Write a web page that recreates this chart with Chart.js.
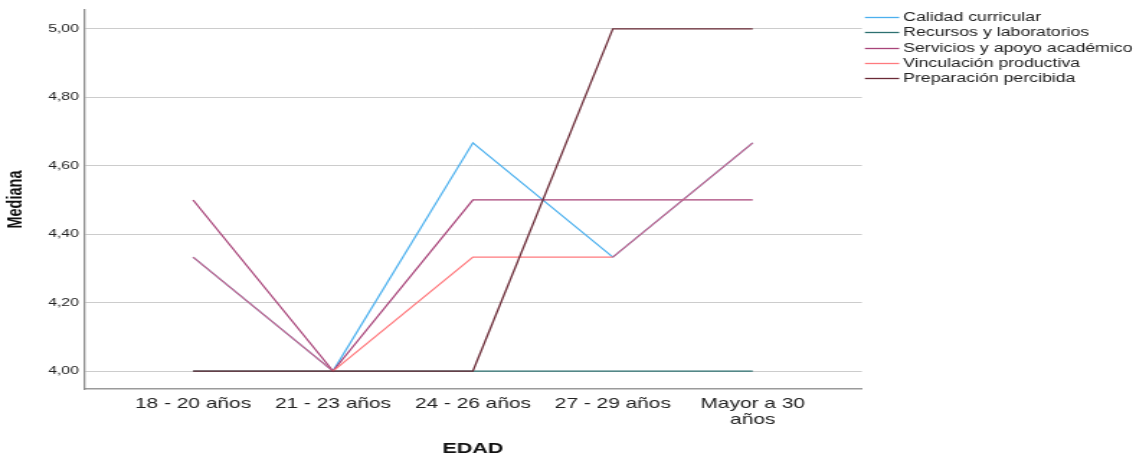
<!DOCTYPE html>
<html>
<head>
<meta charset="utf-8">
<script src="https://cdn.jsdelivr.net/npm/chart.js@4"></script>
<style>
  html, body { margin: 0; padding: 0; background: #ffffff; }
  #wrap { width: 1136px; height: 456px; overflow: hidden; }
  canvas { display: block; }
</style>
</head>
<body>
<div id="wrap"><canvas id="c" width="789" height="456" style="width:1136px;height:456px"></canvas></div>
<script>
// ---- data ----
const categories = ["18 - 20 años", "21 - 23 años", "24 - 26 años", "27 - 29 años", ["Mayor a 30", "años"]];
const seriesNames = ["Calidad curricular", "Recursos y laboratorios", "Servicios y apoyo académico", "Vinculación productiva", "Preparación percibida"];
const calidad      = [4.333, 4.00, 4.667, 4.333, 4.667];
const recursos     = [4.00, 4.00, 4.00, 4.00, 4.00];
const servicios    = [4.50, 4.00, 4.50, 4.50, 4.50];
const vinculacion  = [4.333, 4.00, 4.333, 4.333, 4.667];
const preparacion  = [4.00, 4.00, 4.00, 5.00, 5.00];
const yTicks = [4.00, 4.20, 4.40, 4.60, 4.80, 5.00];
const xTitle = "EDAD";
const yTitle = "Mediana";

// ---- styles ----
const colors = ["#4cb0ee", "#2d7070", "#a84479", "#ff7a7e", "#6a2a36"];
const overlapColor = "#cc6588";
const FONT = '"Liberation Sans", Arial, sans-serif';

const toPts = arr => arr.map((v, i) => ({ x: i, y: v }));
const allSeries = [calidad, recursos, servicios, vinculacion, preparacion];

const datasets = allSeries.map((arr, k) => ({
  label: seriesNames[k],
  data: toPts(arr),
  borderColor: colors[k],
  backgroundColor: colors[k],
  borderWidth: 1.25,
  pointRadius: 0,
  pointHoverRadius: 0,
  tension: 0,
  fill: false,
  order: 5 - k
}));
// where Vinculación runs on top of Calidad the two blend into a mauve tone
datasets[3].segment = {
  borderColor: ctx => {
    const i0 = ctx.p0DataIndex, i1 = ctx.p1DataIndex;
    return (calidad[i0] === vinculacion[i0] && calidad[i1] === vinculacion[i1]) ? overlapColor : undefined;
  }
};

const sideLegend = {
  id: 'sideLegend',
  afterDraw(chart) {
    const ctx = chart.ctx;
    ctx.save();
    ctx.font = '12.3px ' + FONT;
    ctx.textBaseline = 'middle';
    ctx.textAlign = 'left';
    chart.data.datasets.forEach((ds, i) => {
      const y = Math.round(16.7 + i * 15.4) + 0.5;
      ctx.strokeStyle = ds.borderColor;
      ctx.lineWidth = 1.3;
      ctx.beginPath();
      ctx.moveTo(600.7, y);
      ctx.lineTo(624.5, y);
      ctx.stroke();
      ctx.fillStyle = '#222';
      ctx.fillText(ds.label, 627.3, y);
    });
    ctx.restore();
  }
};

const chart = new Chart(document.getElementById('c'), {
  type: 'line',
  data: { datasets },
  options: {
    responsive: false,
    animation: false,
    devicePixelRatio: 1,
    layout: { padding: { top: 9, right: 190.4, bottom: 0, left: 0 } },
    plugins: { legend: { display: false }, tooltip: { enabled: false } },
    scales: {
      x: {
        type: 'linear',
        min: -0.78,
        max: 4.78,
        afterBuildTicks: s => { s.ticks = categories.map((_, i) => ({ value: i })); },
        afterFit: s => { s.height = 67; },
        grid: { display: false, drawTicks: false },
        border: { display: true, color: '#9a9a9a', width: 1.5 },
        ticks: {
          autoSkip: false, maxRotation: 0, minRotation: 0, padding: 7,
          color: '#222', font: { family: FONT, size: 14.5, lineHeight: 1.1 },
          callback: v => categories[v]
        },
        title: { display: true, text: xTitle, color: '#111', padding: 0,
                 font: { family: FONT, size: 15, weight: 'bold', lineHeight: 1 } }
      },
      y: {
        min: 3.9475,
        max: 5.055,
        afterBuildTicks: s => { s.ticks = yTicks.map(v => ({ value: v })); },
        afterFit: s => { s.width = 58.3; },
        grid: { color: '#cccccc', lineWidth: 1, drawTicks: false },
        border: { display: true, color: '#8a8a8a', width: 1.3 },
        ticks: {
          padding: 3.5, color: '#222', font: { family: FONT, size: 11 },
          callback: v => v.toFixed(2).replace('.', ',')
        },
        title: { display: true, text: yTitle, color: '#111', padding: { top: 2.5, bottom: 0 },
                 font: { family: FONT, size: 14.5, weight: 'bold', lineHeight: 1.2 } }
      }
    }
  },
  plugins: [sideLegend]
});
const cv = document.getElementById('c');
cv.style.width = '1136px';
cv.style.height = '456px';
</script>
</body>
</html>
